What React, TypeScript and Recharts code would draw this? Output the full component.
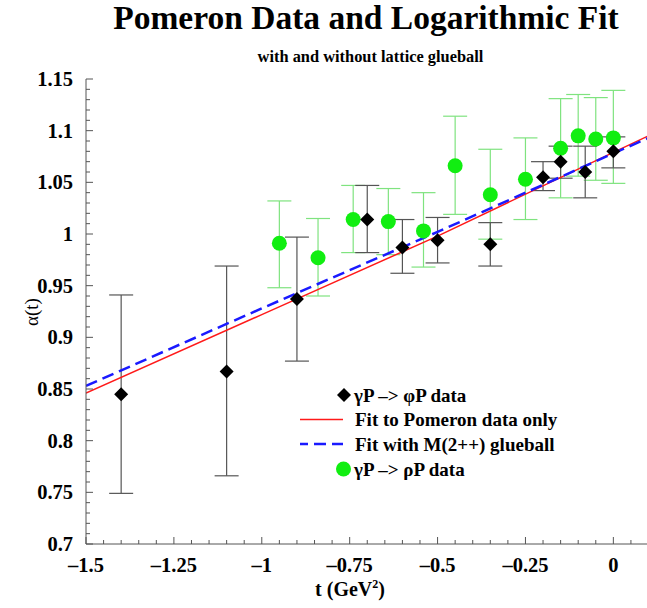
import React from 'react';
import { ComposedChart, Scatter, Line, XAxis, YAxis, ErrorBar } from 'recharts';

// γP -> φP data
const phiT = [-1.4, -1.1, -0.9, -0.7, -0.6, -0.5, -0.35, -0.2, -0.15, -0.08, 0];
const phiA = [0.845, 0.867, 0.937, 1.014, 0.987, 0.994, 0.99, 1.055, 1.07, 1.06, 1.08];
const phiHi = [0.941, 0.969, 0.997, 1.047, 1.014, 1.016, 1.011, 1.07, 1.085, 1.085, 1.094];
const phiLo = [0.749, 0.766, 0.877, 0.982, 0.962, 0.972, 0.969, 1.042, 1.054, 1.035, 1.064];

// γP -> ρP data
const rhoT = [-0.95, -0.84, -0.74, -0.64, -0.54, -0.45, -0.35, -0.25, -0.15, -0.1, -0.05, 0];
const rhoA = [0.991, 0.977, 1.014, 1.012, 1.003, 1.066, 1.038, 1.053, 1.083, 1.095, 1.092, 1.093];
const rhoHi = [1.032, 1.015, 1.047, 1.044, 1.04, 1.114, 1.082, 1.093, 1.131, 1.135, 1.132, 1.139];
const rhoLo = [0.948, 0.94, 0.982, 0.98, 0.968, 1.019, 0.995, 1.014, 1.035, 1.056, 1.052, 1.049];

// fits
const fitT = [-1.5, -1.0, -0.5, 0, 0.1];
const fitPomeron = [0.846, 0.922, 0.998, 1.079, 1.095];
const fitGlueball = [0.853, 0.928, 1.002, 1.078, 1.093];

// ticks
const xMajor = [-1.5, -1.25, -1, -0.75, -0.5, -0.25, 0];
const xMajorLabels = ['\u20131.5', '\u20131.25', '\u20131', '\u20130.75', '\u20130.5', '\u20130.25', '0'];
const yMajor = [0.7, 0.75, 0.8, 0.85, 0.9, 0.95, 1, 1.05, 1.1, 1.15];
const yMajorLabels = ['0.7', '0.75', '0.8', '0.85', '0.9', '0.95', '1', '1.05', '1.1', '1.15'];

function r2(v: number) {
  return Math.round(v * 100) / 100;
}
function r4(v: number) {
  return Math.round(v * 10000) / 10000;
}
const xMinor: number[] = [];
for (let i = 0; i <= 32; i++) xMinor.push(r2(-1.5 + i * 0.05));
const yMinor: number[] = [];
for (let i = 0; i <= 45; i++) yMinor.push(r2(0.7 + i * 0.01));

const phiData = phiT.map((t, i) => ({ t, a: phiA[i], err: [r4(phiA[i] - phiLo[i]), r4(phiHi[i] - phiA[i])] }));
const rhoData = rhoT.map((t, i) => ({ t, a: rhoA[i], err: [r4(rhoA[i] - rhoLo[i]), r4(rhoHi[i] - rhoA[i])] }));
const redData = fitT.map((t, i) => ({ t, a: fitPomeron[i] }));
const blueData = fitT.map((t, i) => ({ t, a: fitGlueball[i] }));

const FONT = '"Liberation Serif", "Times New Roman", serif';
const FRAME = '#555';
const TICKFS = 20.5;

const isIn = (arr: number[], v: number) => arr.some((m) => Math.abs(m - v) < 1e-6);

const BottomTick = (p: any) => {
  const { x, y, payload } = p;
  const v = payload.value;
  const idx = xMajor.findIndex((m) => Math.abs(m - v) < 1e-6);
  const major = idx >= 0;
  return (
    <g>
      <line x1={x} x2={x} y1={y} y2={y - (major ? 7 : 4)} stroke={FRAME} strokeWidth={1} />
      {major && (
        <text x={x} y={y + 28} textAnchor="middle" fontFamily={FONT} fontWeight="bold" fontSize={TICKFS} fill="#000">
          {xMajorLabels[idx]}
        </text>
      )}
    </g>
  );
};

const TopTick = (p: any) => {
  const { x, y, payload } = p;
  const major = isIn(xMajor, payload.value);
  return <line x1={x} x2={x} y1={y} y2={y + (major ? 7 : 4)} stroke={FRAME} strokeWidth={1} />;
};

const LeftTick = (p: any) => {
  const { x, y, payload } = p;
  const v = payload.value;
  const idx = yMajor.findIndex((m) => Math.abs(m - v) < 1e-6);
  const major = idx >= 0;
  return (
    <g>
      <line x1={x} x2={x + (major ? 7 : 4)} y1={y} y2={y} stroke={FRAME} strokeWidth={1} />
      {major && (
        <text x={x - 13} y={y + 7} textAnchor="end" fontFamily={FONT} fontWeight="bold" fontSize={TICKFS} fill="#000">
          {yMajorLabels[idx]}
        </text>
      )}
    </g>
  );
};

const RightTick = (p: any) => {
  const { x, y, payload } = p;
  const major = isIn(yMajor, payload.value);
  return <line x1={x} x2={x - (major ? 7 : 4)} y1={y} y2={y} stroke={FRAME} strokeWidth={1} />;
};

const Diamond = (p: any) => {
  const { cx, cy } = p;
  const s = 7;
  return <polygon points={`${cx},${cy - s} ${cx + s},${cy} ${cx},${cy + s} ${cx - s},${cy}`} fill="#000" />;
};

const GreenDot = (p: any) => {
  const { cx, cy } = p;
  return <circle cx={cx} cy={cy} r={7.5} fill="#11ee11" />;
};

export default function App() {
  return (
    <div style={{ position: 'absolute', left: 0, top: 0, width: 647, height: 608, background: '#fff', overflow: 'hidden' }}>
      <ComposedChart width={647} height={608} margin={{ top: 79, right: -1.5, bottom: 0, left: 0 }}>
        <XAxis
          xAxisId={0}
          dataKey="t"
          type="number"
          domain={[-1.5, 0.1]}
          ticks={xMinor}
          interval={0}
          allowDataOverflow
          height={64}
          tickSize={0}
          tickMargin={0}
          tickLine={false}
          axisLine={{ stroke: FRAME, strokeWidth: 1 }}
          tick={<BottomTick />}
        />
        <XAxis
          xAxisId="top"
          orientation="top"
          dataKey="t"
          type="number"
          domain={[-1.5, 0.1]}
          ticks={xMinor}
          interval={0}
          allowDataOverflow
          height={0}
          tickSize={0}
          tickMargin={0}
          tickLine={false}
          axisLine={{ stroke: FRAME, strokeWidth: 1 }}
          tick={<TopTick />}
        />
        <YAxis
          yAxisId={0}
          dataKey="a"
          type="number"
          domain={[0.7, 1.15]}
          ticks={yMinor}
          interval={0}
          allowDataOverflow
          width={86}
          tickSize={0}
          tickMargin={0}
          tickLine={false}
          axisLine={{ stroke: FRAME, strokeWidth: 1 }}
          tick={<LeftTick />}
        />
        <YAxis
          yAxisId="right"
          orientation="right"
          dataKey="a"
          type="number"
          domain={[0.7, 1.15]}
          ticks={yMinor}
          interval={0}
          allowDataOverflow
          width={0}
          tickSize={0}
          tickMargin={0}
          tickLine={false}
          axisLine={{ stroke: FRAME, strokeWidth: 1 }}
          tick={<RightTick />}
        />
        <Scatter data={rhoData} dataKey="a" shape={<GreenDot />} isAnimationActive={false}>
          <ErrorBar dataKey="err" direction="y" width={12} stroke="#7fe37f" strokeWidth={1.2} />
        </Scatter>
        <Scatter data={phiData} dataKey="a" shape={<Diamond />} isAnimationActive={false}>
          <ErrorBar dataKey="err" direction="y" width={12} stroke="#555" strokeWidth={1.2} />
        </Scatter>
        <Line data={redData} dataKey="a" type="linear" stroke="#ff1a1a" strokeWidth={1.5} dot={false} activeDot={false} isAnimationActive={false} />
        <Line data={blueData} dataKey="a" type="linear" stroke="#1a1aff" strokeWidth={2.5} strokeDasharray="12 6" dot={false} activeDot={false} isAnimationActive={false} />
      </ComposedChart>
      <svg width={647} height={608} style={{ position: 'absolute', left: 0, top: 0, pointerEvents: 'none' }}>
        <text x={366} y={29} textAnchor="middle" fontFamily={FONT} fontWeight="bold" fontSize={33.5} fill="#000">
          Pomeron Data and Logarithmic Fit
        </text>
        <text x={370.5} y={62} textAnchor="middle" fontFamily={FONT} fontWeight="bold" fontSize={16.4} fill="#000">
          with and without lattice glueball
        </text>
        <text x={0} y={0} transform="translate(38,312) rotate(-90)" textAnchor="middle" fontFamily={FONT} fontSize={19} fill="#000">
          α(t)
        </text>
        <text x={350} y={596} textAnchor="middle" fontFamily={FONT} fontWeight="bold" fontSize={20} fill="#000">
          t (GeV<tspan dy={-8} fontSize={12}>2</tspan>
          <tspan dy={8}>)</tspan>
        </text>
        {/* legend */}
        <polygon points="344,388 351,395 344,402 337,395" fill="#000" />
        <text x={354} y={401.5} fontFamily={FONT} fontWeight="bold" fontSize={19} fill="#000">
          γP –&gt; φP data
        </text>
        <line x1={300} x2={343} y1={419.5} y2={419.5} stroke="#ff1a1a" strokeWidth={1.5} />
        <text x={355} y={426} fontFamily={FONT} fontWeight="bold" fontSize={19} fill="#000">
          Fit to Pomeron data only
        </text>
        <line x1={300} x2={343} y1={444} y2={444} stroke="#1a1aff" strokeWidth={2.5} strokeDasharray="12 6" strokeDashoffset={4} />
        <text x={355} y={450.5} fontFamily={FONT} fontWeight="bold" fontSize={19} fill="#000">
          Fit with M(2++) glueball
        </text>
        <circle cx={343.5} cy={469} r={7.5} fill="#11ee11" />
        <text x={354} y={475.5} fontFamily={FONT} fontWeight="bold" fontSize={19} fill="#000">
          γP –&gt; ρP data
        </text>
      </svg>
    </div>
  );
}
